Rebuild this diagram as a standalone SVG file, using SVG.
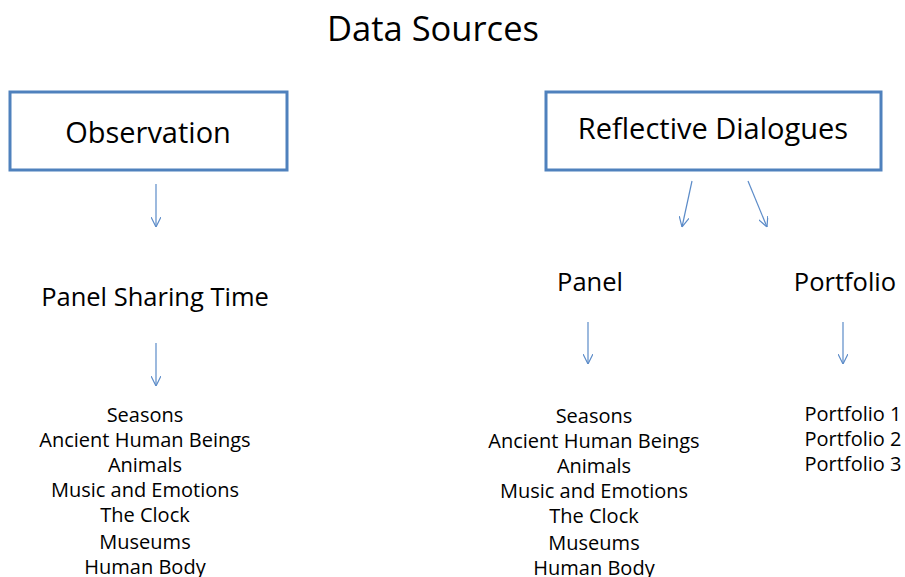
<svg xmlns="http://www.w3.org/2000/svg" width="905" height="577" viewBox="0 0 905 577">
<style>
text{font-family:"Open Sans","Noto Sans",sans-serif;fill:#000;text-anchor:middle}
.box{fill:#fff;stroke:#4F81BD;stroke-width:3}
.conn{stroke:#5B8BC8;stroke-width:1.2;fill:none;marker-end:url(#ah)}
.t{font-size:34.5px}
.h{font-size:29px}
.s{font-size:25.5px}
.l{font-size:20px}
.p{font-size:20px}
</style>
<defs>
<marker id="ah" viewBox="0 0 10 10" refX="10" refY="5" markerWidth="10" markerHeight="10" markerUnits="userSpaceOnUse" orient="auto">
<path d="M0,0 L10,5 L0,10" fill="none" stroke="#5B8BC8" stroke-width="1.2"/>
</marker>
</defs>
<rect width="905" height="577" fill="#fff"/>
<g id="title"><text class="t" x="433" y="41">Data Sources</text></g>
<g id="observation"><rect class="box" x="10" y="92" width="277" height="78"/><text class="h" x="148" y="143">Observation</text></g>
<g id="reflective"><rect class="box" x="546" y="92" width="335" height="78"/><text class="h" x="713" y="139">Reflective Dialogues</text></g>
<g id="panel-sharing"><text class="s" x="155" y="306">Panel Sharing Time</text></g>
<g id="panel"><text class="s" x="590" y="291">Panel</text></g>
<g id="portfolio"><text class="s" x="845" y="291">Portfolio</text></g>
<g id="list-left"><text class="l" x="145"><tspan x="145" y="422">Seasons</tspan><tspan x="145" y="447">Ancient Human Beings</tspan><tspan x="145" y="472">Animals</tspan><tspan x="145" y="497">Music and Emotions</tspan><tspan x="145" y="522">The Clock</tspan><tspan x="145" y="549">Museums</tspan><tspan x="145" y="574">Human Body</tspan></text></g>
<g id="list-right"><text class="l" x="594"><tspan x="594" y="423">Seasons</tspan><tspan x="594" y="448">Ancient Human Beings</tspan><tspan x="594" y="473">Animals</tspan><tspan x="594" y="498">Music and Emotions</tspan><tspan x="594" y="523">The Clock</tspan><tspan x="594" y="550">Museums</tspan><tspan x="594" y="575">Human Body</tspan></text></g>
<g id="portfolio-list"><text class="p" x="853"><tspan x="853" y="421">Portfolio 1</tspan><tspan x="853" y="446">Portfolio 2</tspan><tspan x="853" y="471">Portfolio 3</tspan></text></g>
<g id="connectors">
<line class="conn" x1="156" y1="184" x2="156" y2="227"/>
<line class="conn" x1="156" y1="343" x2="156" y2="386"/>
<line class="conn" x1="692" y1="181" x2="682" y2="227"/>
<line class="conn" x1="748" y1="181" x2="767" y2="227"/>
<line class="conn" x1="588" y1="322" x2="588" y2="364"/>
<line class="conn" x1="843" y1="322" x2="843" y2="364"/>
</g>
</svg>
